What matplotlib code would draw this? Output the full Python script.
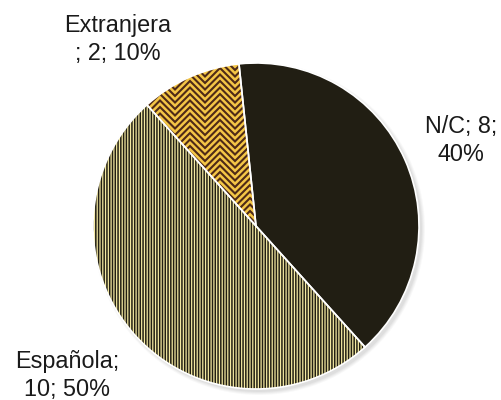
import numpy as np
import matplotlib
matplotlib.use("Agg")
import matplotlib.pyplot as plt
from matplotlib.patches import Wedge, Circle

# ---- data ----
categories = ["N/C", "Española", "Extranjera"]
values = [8, 10, 2]
# where each label wraps (index of separator turned into a line break)
wrap_at = [2, 1, 0]

# ---- style ----
face_colors = ["#211e13", "#f4e9a2", "#f4c646"]
dark = "#211e13"
zig_dark = "#4e2a17"

plt.rcParams["font.family"] = ["Liberation Sans", "DejaVu Sans"]
plt.rcParams["hatch.linewidth"] = 1.1

fig = plt.figure(figsize=(5.02, 4.0), dpi=100)
ax = fig.add_axes([0, 0, 1, 1])

center = (256, 174)
radius = 163

# soft shadow
for i, a in enumerate([0.05, 0.06, 0.07, 0.09]):
    ax.add_patch(Circle((center[0] + 3, center[1] - 3), radius + 3 - i,
                        facecolor="#808080", edgecolor="none", alpha=a, zorder=0))

wedges, _ = ax.pie(values, colors=face_colors, startangle=96, counterclock=False,
                   center=center, radius=radius,
                   wedgeprops=dict(edgecolor="none", linewidth=0))
for w in wedges:
    w.set_zorder(1)

# Española: vertical stripes
w = wedges[1]
ax.add_patch(Wedge(w.center, w.r, w.theta1, w.theta2, facecolor="none",
                   edgecolor=dark, linewidth=0, hatch="||||||", zorder=2))

# Extranjera: zigzag pattern clipped to wedge
w = wedges[2]
xs = np.arange(100, 300, 15)
for y0 in np.arange(150, 430, 6.5):
    ys = y0 - np.abs(((xs - 175) % 30) - 15)
    ln, = ax.plot(xs, ys, color=zig_dark, lw=1.5, zorder=2,
                  solid_joinstyle="miter")
    ln.set_clip_path(w)

# white edges on top
for w in wedges:
    ax.add_patch(Wedge(w.center, w.r, w.theta1, w.theta2, facecolor="none",
                       edgecolor="white", linewidth=1.2, zorder=3))

# ---- labels ----
total = sum(values)
label_pos = [(461, 267), (67, 32), (118, 368)]
for cat, val, k, (lx, ly) in zip(categories, values, wrap_at, label_pos):
    parts = [cat, str(val), f"{100 * val / total:.0f}%"]
    if k == 0:
        lines = [parts[0], "; " + "; ".join(parts[1:])]
    else:
        lines = ["; ".join(parts[:k]) + ";", "; ".join(parts[k:])]
    for j, line in enumerate(lines):
        ax.text(lx, ly - 28 * j, line, ha="center", va="baseline",
                fontsize=16.8, color="#1a1a1a", zorder=5)

ax.set_xlim(0, 502)
ax.set_ylim(0, 400)
ax.set_aspect("equal")
ax.axis("off")

fig.savefig("out.png", dpi=100)
